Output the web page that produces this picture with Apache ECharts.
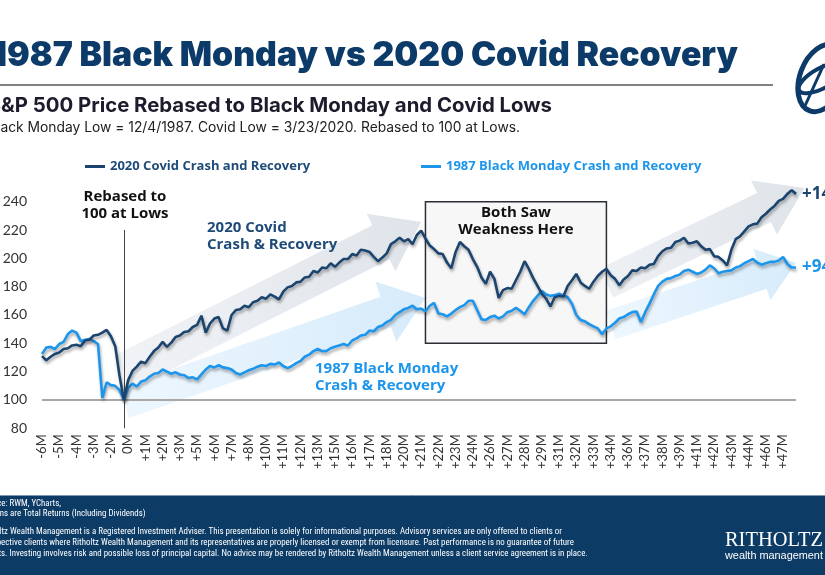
<!DOCTYPE html>
<html><head><meta charset="utf-8">
<script src="https://cdn.jsdelivr.net/npm/echarts@6/dist/echarts.min.js"></script>
<style>html,body{margin:0;padding:0;background:#fff}#c{width:825px;height:575px}</style>
</head><body><div id="c"></div>
<script>
// ---------------- DATA ----------------
const tickLabels = ['-6M','-5M','-4M','-3M','-2M','0M','+1M','+2M','+3M','+5M','+6M','+7M','+8M','+10M','+11M','+12M','+13M','+15M','+16M','+17M','+18M','+20M','+21M','+22M','+23M','+24M','+26M','+27M','+28M','+29M','+31M','+32M','+33M','+34M','+36M','+37M','+38M','+39M','+41M','+42M','+43M','+44M','+46M','+47M'];
const pointsPerTick = 4;
const covid2020 = [
131,128,130.5,132.5,133.5,136,136.5,138.5,139,138,
142,142.5,145.5,146,147.5,149.5,145,138,117,100,
114,120.5,123.5,127,126,130.5,134.5,137,141,137.5,
140.5,144.5,145.5,148,148.5,151.5,153,159.5,147.5,154,
157.5,158.5,150.5,149,160,163.5,164,166.5,165.5,169,
170,172.5,171.5,174.5,173,171,176.5,179.5,180.5,183,
183.5,186.5,187,191,190,193.5,193,196.5,194,197,
199.5,199.5,203,202,206,205.5,204.5,201,198,200.5,
203.5,210,212,214.5,212,213.5,210,216.5,219.5,214,
209,206.5,203.5,203,197,193,204.5,211.5,208.5,206,
199.5,194,186.5,182,190.5,185.5,172,177.5,179,178.5,
184.5,190.5,198,192.5,186,180.5,175,171.5,166,172.5,
173.5,173,180.5,184.5,189,183,180.5,178.5,183.5,187.5,
190.5,192.5,188,185.5,181,185,187.5,191.5,191,193.5,
193,195.5,196,201.5,205,207,207.5,211.5,212.5,214.5,
210.5,211,212,208.5,206,206.5,201.5,201,198.5,195,
206,213.5,215.5,219,222.5,224,224.5,229,231.5,234.5,
237,240.5,242,245.5,248,245.5];
const blackMonday1987 = [
132.5,137,137.5,136,139.5,141,146.5,149,147.5,141.5,
142.5,143,141.5,139.5,101.5,112.5,110.5,110,107,100,
108.5,111.5,109.5,113,114,116.5,118.5,119,121.5,120,
118.5,119.5,118,117.5,115.5,116,114.5,118,121.5,124,
123,124.5,123,122.5,121.5,119,118,119.5,121,122,
123.5,124.5,124,125.5,125,126.5,124,122.5,124,126,
127.5,130.5,132,134.5,136,134.5,134.5,136.5,137.5,138.5,
139.5,138.5,142,143.5,145.5,146,149,148.5,151.5,152.5,
155,156.5,160,162,164,165,166.5,164,164.5,162.5,
166.5,168.5,161,160.5,159,161,163.5,165.5,167,170,
170,163.5,157,156.5,158.5,159.5,157.5,159,162,163,
165,163,160.5,165.5,170,173.5,177,174.5,173.5,174,
175,174,172.5,168,160,156.5,155.5,153.5,152,150.5,
146.5,150.5,152,154.5,157.5,158.5,160.5,162,162.5,155,
162,168,174.5,180.5,183.5,185.5,186,187.5,188.5,191,
192,190.5,189,190,192,195,193,189.5,190.5,191,
191.5,193.5,194.5,196.5,198,199.5,197,195.5,196.5,197.5,
197.5,198.5,201,196,193.5,193.5];
const seriesNames = ['2020 Covid Crash and Recovery','1987 Black Monday Crash and Recovery'];
const lowIndex = 19;            // both series rebased to 100 here
const weaknessBox = {from: 89, to: 131, top: 240, bottom: 140};
const titleText = '1987 Black Monday vs 2020 Covid Recovery';
const subtitleText = 'S&P 500 Price Rebased to Black Monday and Covid Lows';
const noteText = 'Black Monday Low = 12/4/1987. Covid Low = 3/23/2020. Rebased to 100 at Lows.';
const footerLines = ['Source: RWM, YCharts,','Returns are Total Returns (Including Dividends)','',
'Ritholtz Wealth Management is a Registered Investment Adviser. This presentation is solely for informational purposes. Advisory services are only offered to clients or',
'prospective clients where Ritholtz Wealth Management and its representatives are properly licensed or exempt from licensure. Past performance is no guarantee of future',
'results. Investing involves risk and possible loss of principal capital. No advice may be rendered by Ritholtz Wealth Management unless a client service agreement is in place.'];

// ---------------- STYLE ----------------
const DARK = '#1b446e', LIGHT = '#1c95ec', NAVY = '#0d3b69';
const FA = "'Open Sans','Noto Sans',sans-serif";
const FT = "Inter,'Noto Sans',sans-serif";
const FN = "'Liberation Sans Narrow','Roboto Condensed','Arial Narrow','Liberation Sans',sans-serif";

const mctx = document.createElement('canvas').getContext('2d');
function tw(text, weight, size, family){ mctx.font = weight + ' ' + size + 'px ' + family; return mctx.measureText(text).width; }
function fit(text, weight, family, target){ return 100 * target / tw(text, weight, 100, family); }

const categories = covid2020.map((_, i) => String(i));

const chart = echarts.init(document.getElementById('c'), null, {renderer: 'canvas'});
const lineShadow = {shadowColor: 'rgba(0,0,0,0.35)', shadowBlur: 3, shadowOffsetX: 1, shadowOffsetY: 2.5};
chart.setOption({
  animation: false,
  backgroundColor: '#fff',
  grid: {left: 42, right: 29, top: 187.5, bottom: 146.7, outerBoundsMode: 'none'},
  legend: [
    {data: [seriesNames[0]], left: 85, top: 160, padding: 0, icon: 'rect', itemWidth: 20, itemHeight: 3,
     textStyle: {color: '#1f4b78', fontWeight: 'bold', fontSize: 13, fontFamily: FA}},
    {data: [seriesNames[1]], left: 421, top: 160, padding: 0, icon: 'rect', itemWidth: 20, itemHeight: 3,
     textStyle: {color: LIGHT, fontWeight: 'bold', fontSize: 13, fontFamily: FA}}
  ],
  xAxis: {
    type: 'category', data: categories, boundaryGap: false,
    axisLine: {show: false}, axisTick: {show: false}, splitLine: {show: false},
    axisLabel: {interval: 0, rotate: 90, margin: 6, fontSize: 13, color: '#333', fontFamily: 'Lato, sans-serif',
      formatter: (v, i) => (i % pointsPerTick === 0 && tickLabels[i / pointsPerTick]) ? tickLabels[i / pointsPerTick] : ''}
  },
  yAxis: {
    type: 'value', min: 80, max: 250, interval: 20,
    axisLine: {show: false}, axisTick: {show: false}, splitLine: {show: false},
    axisLabel: {margin: 15, fontSize: 14, color: '#333', fontFamily: 'Lato, sans-serif',
      formatter: v => (v % 20 === 0 ? String(v) : '')}
  },
  series: [
    {type: 'line', name: 'annot', data: [], z: 1, silent: true,
     markArea: {silent: true, itemStyle: {color: '#f7f7f8', borderColor: '#2a2f36', borderWidth: 1.5},
       label: {show: true, position: 'insideTop', distance: 3, formatter: 'Both Saw\nWeakness Here', color: '#111',
         fontSize: 15, fontWeight: 'bold', fontFamily: FA, lineHeight: 17},
       data: [[{xAxis: weaknessBox.from, yAxis: weaknessBox.top}, {xAxis: weaknessBox.to, yAxis: weaknessBox.bottom}]]},
     markLine: {silent: true, symbol: 'none', label: {show: false},
       data: [
         {yAxis: 100, lineStyle: {color: '#a8a8a8', width: 2, type: 'solid'}},
         [{coord: [lowIndex, 220], lineStyle: {color: '#444', width: 1, type: 'solid'}}, {coord: [lowIndex, 80]}]
       ]}
    },
    {type: 'line', name: seriesNames[1], data: blackMonday1987, z: 5, symbol: 'none', color: LIGHT,
     lineStyle: Object.assign({width: 2.6, color: LIGHT}, lineShadow),
     endLabel: {show: true, distance: 6, formatter: p => '+' + Math.round(p.value - 100) + '%', color: LIGHT,
       fontSize: 17, fontWeight: 'bold', fontFamily: FA}},
    {type: 'line', name: seriesNames[0], data: covid2020, z: 6, symbol: 'none', color: DARK,
     lineStyle: Object.assign({width: 2.6, color: DARK}, lineShadow),
     endLabel: {show: true, distance: 6, formatter: p => '+' + Math.round(p.value - 100) + '%', color: DARK,
       fontSize: 17, fontWeight: 'bold', fontFamily: FA}}
  ]
});

// ---------------- DECORATIONS ----------------
function px(pt){ return chart.convertToPixel({gridIndex: 0}, pt); }
function arrow(t, p, sw, hw, hl){
  const dx = p[0]-t[0], dy = p[1]-t[1], L = Math.hypot(dx, dy), ux = dx/L, uy = dy/L, nx = -uy, ny = ux;
  const bx = p[0]-ux*hl, by = p[1]-uy*hl;
  return [[t[0]+nx*sw, t[1]+ny*sw],[bx+nx*sw, by+ny*sw],[bx+nx*hw, by+ny*hw],[p[0],p[1]],[bx-nx*hw, by-ny*hw],[bx-nx*sw, by-ny*sw],[t[0]-nx*sw, t[1]-ny*sw]];
}
function grad(c0, c1){ return new echarts.graphic.LinearGradient(0, 0, 1, 0, [{offset: 0, color: c0}, {offset: 1, color: c1}]); }
const arrows = [
  {tail: [18.8, 119.8], tip: [88.2, 225.6], sw: 19, hw: 32, hl: 45, fill: grad('#f1f3f6', '#dfe4ea')},
  {tail: [131.2, 182.6], tip: [176.6, 249.6], sw: 16, hw: 30, hl: 45, fill: grad('#eef1f4', '#dfe4ea')},
  {tail: [18.8, 97.9], tip: [88.9, 172], sw: 16, hw: 32, hl: 42, fill: grad('#eef7fe', '#d6ebfb')},
  {tail: [132.3, 152.9], tip: [175.3, 196.7], sw: 15, hw: 27, hl: 36, fill: grad('#eef7fe', '#d6ebfb')}
];
const g = [];
arrows.forEach((a, k) => g.push({type: 'polygon', id: 'arr' + k, z: 0, silent: true,
  shape: {points: arrow(px(a.tail), px(a.tip), a.sw, a.hw, a.hl)}, style: {fill: a.fill}}));

function text(id, x, y, str, font, fill, align, valign, lh){
  const st = {text: str, font: font, fill: fill, align: align, textAlign: align, verticalAlign: valign, textVerticalAlign: valign};
  if (lh) st.lineHeight = lh;
  return {type: 'text', id: id, x: x, y: y, z: 100, silent: true, style: st};
}
// title block (left edge cropped as in the source slide)
const tSize = fit(titleText.slice(1), 900, FT, 731);
g.push(text('title', 738, 56, titleText, '900 ' + tSize.toFixed(2) + 'px ' + FT, NAVY, 'right', 'middle'));
g.push({type: 'line', id: 'rule', z: 100, silent: true, shape: {x1: 0, y1: 85, x2: 773, y2: 85}, style: {stroke: '#808080', lineWidth: 2}});
const sSize = fit(subtitleText.slice(1), 700, FT, 551);
g.push(text('sub', 552, 106, subtitleText, '700 ' + sSize.toFixed(2) + 'px ' + FT, '#1c1c2c', 'right', 'middle'));
const nSize = fit(noteText.slice(2), 400, FT, 520);
g.push(text('note', 520, 128, noteText, '400 ' + nSize.toFixed(2) + 'px ' + FT, '#222', 'right', 'middle'));

// logo emblem
g.push({type: 'group', id: 'logo', x: 822, y: 78, z: 100, silent: true, children: [
  {type: 'ellipse', shape: {cx: 0, cy: 0, rx: 35, ry: 22}, rotation: 1.2, style: {fill: 'none', stroke: NAVY, lineWidth: 5}},
  {type: 'ellipse', shape: {cx: 0, cy: 0, rx: 26, ry: 10}, rotation: 0.5, style: {fill: 'none', stroke: NAVY, lineWidth: 4}},
  {type: 'line', shape: {x1: -18, y1: 30, x2: 2, y2: -14}, style: {stroke: NAVY, lineWidth: 3}}
]});

// chart annotations
g.push(text('reb', 125, 205, 'Rebased to\n100 at Lows', 'bold 15px ' + FA, '#111', 'center', 'middle', 16.5));
g.push(text('a2020', 207, 236, '2020 Covid\nCrash & Recovery', 'bold 15px ' + FA, '#1f4b78', 'left', 'middle', 17));
g.push(text('a1987', 315, 377, '1987 Black Monday\nCrash & Recovery', 'bold 15px ' + FA, LIGHT, 'left', 'middle', 17));

// footer band
g.push({type: 'rect', id: 'band', z: 90, silent: true, shape: {x: 0, y: 495, width: 825, height: 80}, style: {fill: '#0c3b66'}});
g.push({type: 'line', id: 'bandTop', z: 91, silent: true, shape: {x1: 0, y1: 495.5, x2: 825, y2: 495.5}, style: {stroke: '#7f98b2', lineWidth: 1}});
const fSize = fit(footerLines[3].slice(6), 400, FN, 561);
const fFont = '400 ' + fSize.toFixed(2) + 'px ' + FN;
const fLeft = 562 - tw(footerLines[3], 400, fSize, FN);
const footY = [504, 514, 0, 532, 543, 554];
footerLines.forEach((s, k) => { if (s) g.push(text('f' + k, fLeft, footY[k], s, fFont, '#ffffff', 'left', 'middle')); });
const rSize = fit('RITHOLTZ', 400, "'Liberation Serif',serif", 98);
g.push(text('rit', 725, 541, 'RITHOLTZ', '400 ' + rSize.toFixed(2) + "px 'Liberation Serif',serif", '#ffffff', 'left', 'middle'));
const wSize = fit('wealth management', 400, "'Liberation Sans',sans-serif", 98);
g.push(text('wm', 725, 556, 'wealth management', '400 ' + wSize.toFixed(2) + "px 'Liberation Sans',sans-serif", '#ffffff', 'left', 'middle'));

chart.setOption({graphic: g});
</script>
</body></html>
